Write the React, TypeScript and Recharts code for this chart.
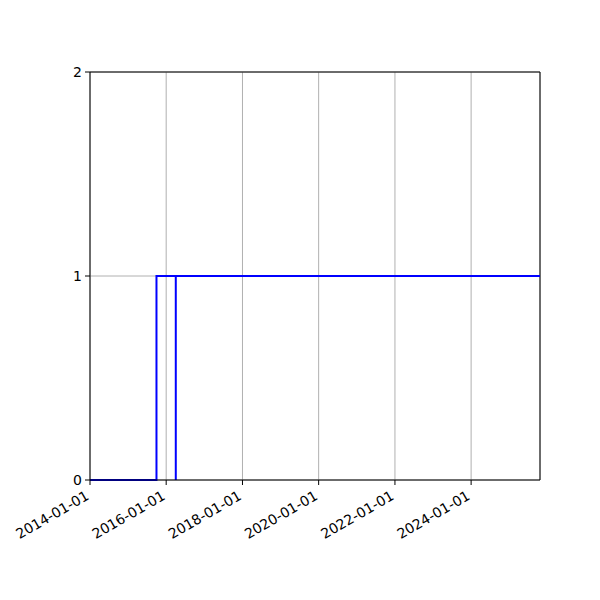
import { CartesianGrid, Line, LineChart, ReferenceLine, XAxis, YAxis } from "recharts";

const DATE_TICKS = ["2014-01-01", "2016-01-01", "2018-01-01", "2020-01-01", "2022-01-01", "2024-01-01"];
const X_START = "2014-01-01";
const X_END = "2025-10-22";
const Y_TICKS = [0, 1, 2];

const FIRST_DATES = ["2014-01-01", "2015-09-30", "2025-10-22"];
const FIRST_VALUES = [0, 1, 1];

const SECOND_DATES = ["2016-04-02", "2016-04-02", "2025-10-22"];
const SECOND_VALUES = [0, 1, 1];

const BLUE = "#0000ff";
const GRID = "#b0b0b0";
const FONT = "DejaVu Sans";

const toTime = (d: string) => new Date(d + "T00:00:00Z").getTime();

const toRows = (dates: string[], values: number[]) =>
  dates.map((d, i) => ({ t: toTime(d), v: values[i] }));

const firstRows = toRows(FIRST_DATES, FIRST_VALUES);
const secondRows = toRows(SECOND_DATES, SECOND_VALUES);

const formatDate = (t: number) => new Date(t).toISOString().slice(0, 10);

// rotated date labels, anchored at the right end like matplotlib's autofmt_xdate
function DateTick(props: any) {
  const { x, y, payload } = props;
  return (
    <text
      transform={`translate(${x - 5},${y + 3}) rotate(-30)`}
      textAnchor="end"
      dy="0.71em"
      fontSize={14}
      fontFamily={FONT}
      fill="#000"
    >
      {formatDate(payload.value)}
    </text>
  );
}

export default function App() {
  return (
    <div style={{ position: "absolute", left: 0, top: 0, width: 600, height: 600, background: "#fff" }}>
      <LineChart width={600} height={600} margin={{ top: 72, right: 60, bottom: 0, left: 0 }}>
        <CartesianGrid stroke={GRID} strokeWidth={1} />
        <XAxis
          type="number"
          dataKey="t"
          domain={[toTime(X_START), toTime(X_END)]}
          ticks={DATE_TICKS.map(toTime)}
          interval={0}
          tick={<DateTick />}
          tickSize={5}
          axisLine={{ stroke: "#000", strokeWidth: 1 }}
          tickLine={{ stroke: "#000" }}
          allowDataOverflow
          height={120}
        />
        <YAxis
          type="number"
          domain={[0, 2]}
          ticks={Y_TICKS}
          interval={0}
          tickSize={5}
          tickMargin={3}
          width={90}
          axisLine={{ stroke: "#000", strokeWidth: 1 }}
          tickLine={{ stroke: "#000" }}
          tick={{ fontSize: 14, fontFamily: FONT, fill: "#000" }}
        />
        <ReferenceLine y={2} stroke="#000" strokeWidth={1} />
        <ReferenceLine x={toTime(X_END)} stroke="#000" strokeWidth={1} />
        <Line
          data={firstRows}
          dataKey="v"
          type="stepAfter"
          stroke={BLUE}
          strokeWidth={2}
          dot={false}
          isAnimationActive={false}
        />
        <Line
          data={secondRows}
          dataKey="v"
          type="stepAfter"
          stroke={BLUE}
          strokeWidth={2}
          dot={false}
          isAnimationActive={false}
        />
      </LineChart>
    </div>
  );
}
